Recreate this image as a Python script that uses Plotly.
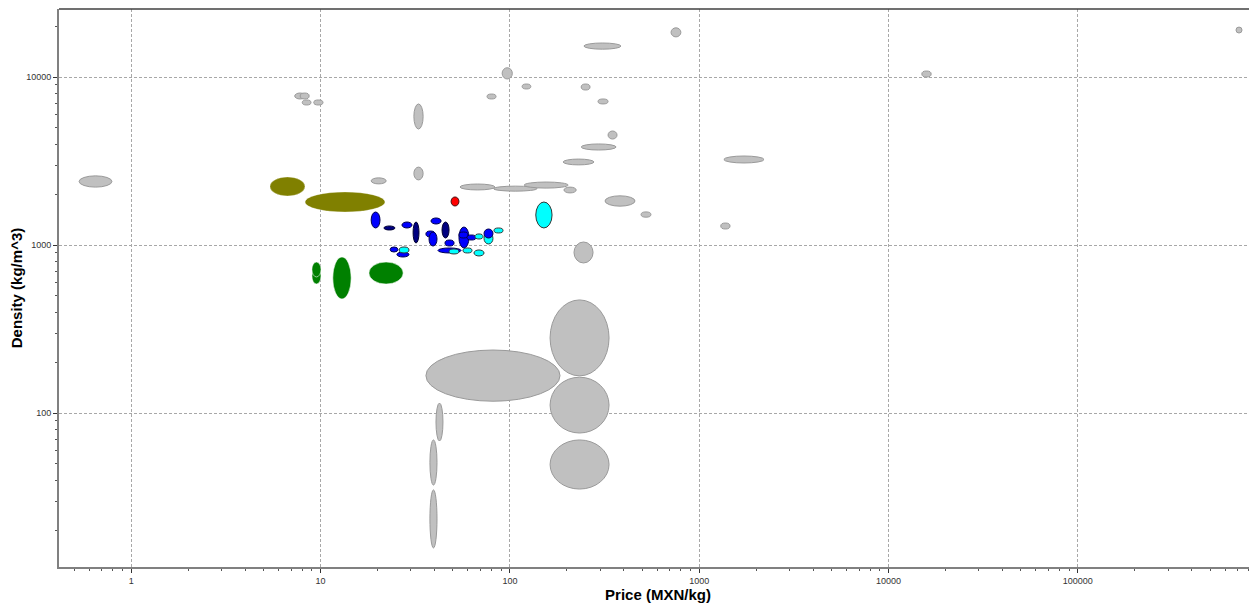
import plotly.graph_objects as go

# ---- data: price range (MXN/kg) and density range (kg/m^3) per material ----
category = (
    ["gray"] * 36
    + ["olive"] * 2
    + ["green"] * 4
    + ["blue", "navy", "blue", "navy", "blue", "blue", "blue", "navy", "blue", "blue",
       "cyan", "blue", "blue", "blue", "cyan", "cyan", "cyan", "cyan", "blue", "cyan",
       "blue", "blue", "cyan", "red", "cyan"]
)
price_lo = [0.53, 7.3, 7.8, 8.0, 9.2, 31.1, 31.1, 18.5, 710, 246, 91, 116, 238, 292, 330, 238,
            191, 1350, 54.5, 82, 119, 193, 318, 493, 1300, 15000, 685000, 75.7, 218, 36, 163,
            163, 163, 40.7, 37.8, 37.8,
            5.4, 8.27,
            9.0, 9.0, 11.6, 18.0,
            18.5, 21.6, 26.9, 30.8, 38.3, 36.0, 37.4, 43.8, 45.4, 41.7,
            47.7, 53.8, 53.8, 59.3, 65.4, 56.5, 64.6, 73.0, 73.0, 82.4,
            23.3, 25.3, 26.0, 48.9, 137]
price_hi = [0.79, 8.3, 8.7, 8.9, 10.3, 34.8, 34.8, 22.2, 800, 386, 103, 129, 265, 330, 368, 364,
            278, 2200, 83.4, 139, 203, 224, 458, 556, 1455, 16800, 737000, 84.5, 275, 184, 334,
            334, 334, 44.3, 41.2, 41.2,
            8.27, 21.9,
            10.05, 10.05, 14.5, 27.3,
            20.6, 24.7, 30.4, 33.1, 43.3, 40.2, 41.2, 47.7, 50.7, 55.2,
            53.8, 60.8, 60.1, 66.2, 72.1, 63.1, 73.0, 81.4, 81.4, 92.0,
            25.6, 29.3, 29.3, 53.8, 167]
dens_lo = [2220, 7430, 7430, 6840, 6840, 4920, 2450, 2320, 17400, 14700, 9770, 8520, 8400, 6940,
           4290, 3690, 3010, 3090, 2135, 2100, 2190, 2050, 1710, 1470, 1250, 10040, 18350, 7430,
           785, 118, 167, 76.3, 35.4, 68.4, 37.4, 15.8,
           1966, 1578,
           588, 648, 479, 588,
           1268, 1233, 1268, 1032, 1339, 1121, 990, 1105, 990, 900,
           888, 964, 1105, 1075, 1090, 900, 864, 1018, 1105, 1184,
           912, 852, 900, 1714, 1268]
dens_hi = [2590, 8060, 8060, 7330, 7330, 6940, 2920, 2520, 19700, 16000, 11400, 9120, 9120, 7430,
           4790, 4010, 3260, 3400, 2316, 2250, 2380, 2220, 1970, 1580, 1357, 10900, 19900, 7950,
           1046, 238, 473, 164, 69.4, 115, 69.4, 35,
           2550, 2077,
           733, 795, 852, 795,
           1578, 1303, 1376, 1376, 1454, 1216, 1200, 1376, 1075, 964,
           951, 1285, 1200, 1152, 1168, 964, 938, 1184, 1250, 1268,
           977, 912, 977, 1939, 1810]

x_tick_vals = [1, 10, 100, 1000, 10000, 100000]
x_tick_text = ["1", "10", "100", "1000", "10000", "100000"]
y_tick_vals = [100, 1000, 10000]
y_tick_text = ["100", "1000", "10000"]

fill = {"gray": "#C0C0C0", "olive": "#808000", "green": "#008000", "blue": "#0000FF",
        "navy": "#000080", "cyan": "#00FFFF", "red": "#FF0000"}
edge = {"gray": "#9a9a9a", "olive": "rgba(255,255,255,0.3)", "green": "rgba(255,255,255,0.55)",
        "blue": "#000050", "navy": "#000030", "cyan": "#303838", "red": "#401010"}

fig = go.Figure()
# invisible centres so the axes carry the data
fig.add_trace(go.Scatter(
    x=[(a * b) ** 0.5 for a, b in zip(price_lo, price_hi)],
    y=[(a * b) ** 0.5 for a, b in zip(dens_lo, dens_hi)],
    mode="markers", marker=dict(opacity=0), hoverinfo="x+y", showlegend=False))

for c, x0, x1, y0, y1 in zip(category, price_lo, price_hi, dens_lo, dens_hi):
    fig.add_shape(type="circle", xref="x", yref="y", x0=x0, x1=x1, y0=y0, y1=y1,
                  fillcolor=fill[c], line=dict(color=edge[c], width=1), layer="above")

# top frame line
fig.add_shape(type="line", xref="paper", yref="paper", x0=0, x1=1, y0=1, y1=1,
              line=dict(color="#404040", width=1.5))

minor_x = [k * 10 ** d for d in range(-1, 6) for k in range(2, 10)]
minor_y = [k * 10 ** d for d in range(1, 5) for k in range(2, 10)]

tick_font = dict(family="Liberation Sans", size=9, color="#333333")
title_font = dict(family="Liberation Sans", size=15, color="#000000", weight="bold")

fig.update_xaxes(
    type="log", range=[-0.3819, 5.9466], automargin=False,
    tickvals=x_tick_vals, ticktext=x_tick_text, tickfont=tick_font,
    ticks="outside", ticklen=4, tickcolor="#333333",
    showgrid=True, gridcolor="#a8a8a8", griddash="3px,2px", gridwidth=1,
    showline=True, linecolor="#808080", linewidth=2, zeroline=False,
    minor=dict(tickvals=minor_x, ticks="outside", ticklen=2, tickcolor="#555555", showgrid=False),
    title=dict(text="Price (MXN/kg)", font=title_font, standoff=4),
)
fig.update_yaxes(
    type="log", range=[1.0851, 4.4065], automargin=False,
    tickvals=y_tick_vals, ticktext=y_tick_text, tickfont=tick_font,
    ticks="outside", ticklen=4, tickcolor="#333333",
    showgrid=True, gridcolor="#a8a8a8", griddash="3px,2px", gridwidth=1,
    showline=True, linecolor="#808080", linewidth=2, zeroline=False,
    minor=dict(tickvals=minor_y, ticks="outside", ticklen=2, tickcolor="#555555", showgrid=False),
    title=dict(text="Density (kg/m^3)", font=title_font, standoff=0),
)
# the page places the figure 8px in from the top-left corner
fig.update_layout(
    width=1249, height=597,
    margin=dict(l=51, r=0, t=1, b=38),
    plot_bgcolor="white", paper_bgcolor="white", showlegend=False,
)
fig.write_html("out.html")
